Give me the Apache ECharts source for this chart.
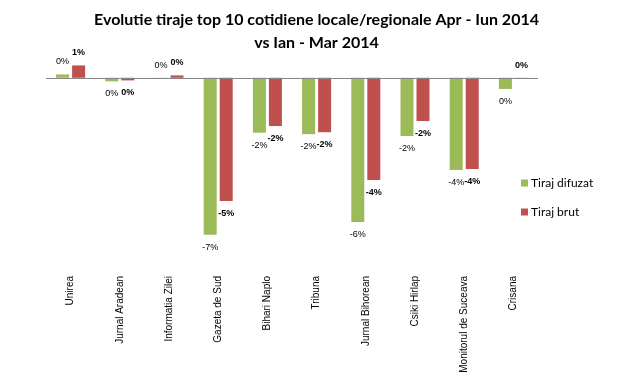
<!DOCTYPE html>
<html>
<head>
<meta charset="utf-8">
<script src="https://cdn.jsdelivr.net/npm/echarts@6/dist/echarts.min.js"></script>
<style>
  html, body { margin: 0; padding: 0; background: #fff; }
  #chart { width: 633px; height: 377px; }
</style>
</head>
<body>
<div id="chart"></div>
<script>
// cotidiene
var categories = ['Unirea', 'Jurnal Aradean', 'Informatia Zilei', 'Gazeta de Sud', 'Bihari Naplo',
    'Tribuna', 'Jurnal Bihorean', 'Csiki Hirlap', 'Monitorul de Suceava', 'Crisana'];
// evolutie in %
var tirajDifuzat = [0.14, -0.15, 0.005, -6.6, -2.31, -2.37, -6.07, -2.45, -3.88, -0.47];
var tirajBrut = [0.52, -0.11, 0.1, -5.18, -2.03, -2.29, -4.3, -1.82, -3.84, 0.005];
var seriesNames = ['Tiraj difuzat', 'Tiraj brut'];

function fmt(p) {
    return Math.round(p.value) === 0 ? '0%' : Math.round(p.value) + '%';
}

var dom = document.getElementById('chart');
var chart = echarts.init(dom);

var option = {
    animation: false,
    color: ['#9BBB59', '#C0504D'],
    title: {
        text: 'Evolutie tiraje top 10 cotidiene locale/regionale Apr - Iun 2014\nvs Ian - Mar 2014',
        left: 'center',
        top: 3,
        textStyle: {
            fontFamily: 'Lato',
            fontSize: 16,
            fontWeight: 'bold',
            color: '#000',
            lineHeight: 23
        }
    },
    legend: {
        orient: 'vertical',
        left: 516,
        top: 172,
        itemWidth: 7,
        itemHeight: 7,
        itemGap: 17,
        icon: 'rect',
        data: seriesNames,
        textStyle: { fontFamily: 'Lato', fontSize: 12, color: '#000', padding: [0, 0, 0, -2] }
    },
    grid: {
        left: 46,
        top: 54,
        width: 492,
        height: 214
    },
    xAxis: {
        type: 'category',
        data: categories,
        position: 'bottom',
        axisLine: { show: false, onZero: false },
        axisTick: { show: false },
        axisLabel: {
            rotate: 90,
            margin: 8,
            interval: 0,
            fontFamily: 'Liberation Sans',
            fontSize: 10,
            color: '#000'
        }
    },
    yAxis: {
        type: 'value',
        min: -8,
        max: 1,
        show: false
    },
    series: [
        {
            name: seriesNames[0],
            type: 'bar',
            data: tirajDifuzat,
            barGap: '23%',
            barCategoryGap: '41%',
            label: {
                show: true,
                position: 'outside',
                distance: 8,
                formatter: fmt,
                fontFamily: 'Liberation Sans',
                fontSize: 9,
                color: '#000'
            },
            markLine: {
                silent: true,
                symbol: 'none',
                label: { show: false },
                lineStyle: { color: '#868686', type: 'solid', width: 1 },
                data: [{ yAxis: 0 }]
            }
        },
        {
            name: seriesNames[1],
            type: 'bar',
            data: tirajBrut,
            label: {
                show: true,
                position: 'outside',
                distance: 8,
                formatter: fmt,
                fontFamily: 'Liberation Sans',
                fontSize: 9,
                fontWeight: 'bold',
                color: '#000'
            }
        }
    ]
};
chart.setOption(option);
window.addEventListener('resize', function () {
    chart.resize();
});
</script>
</body>
</html>
